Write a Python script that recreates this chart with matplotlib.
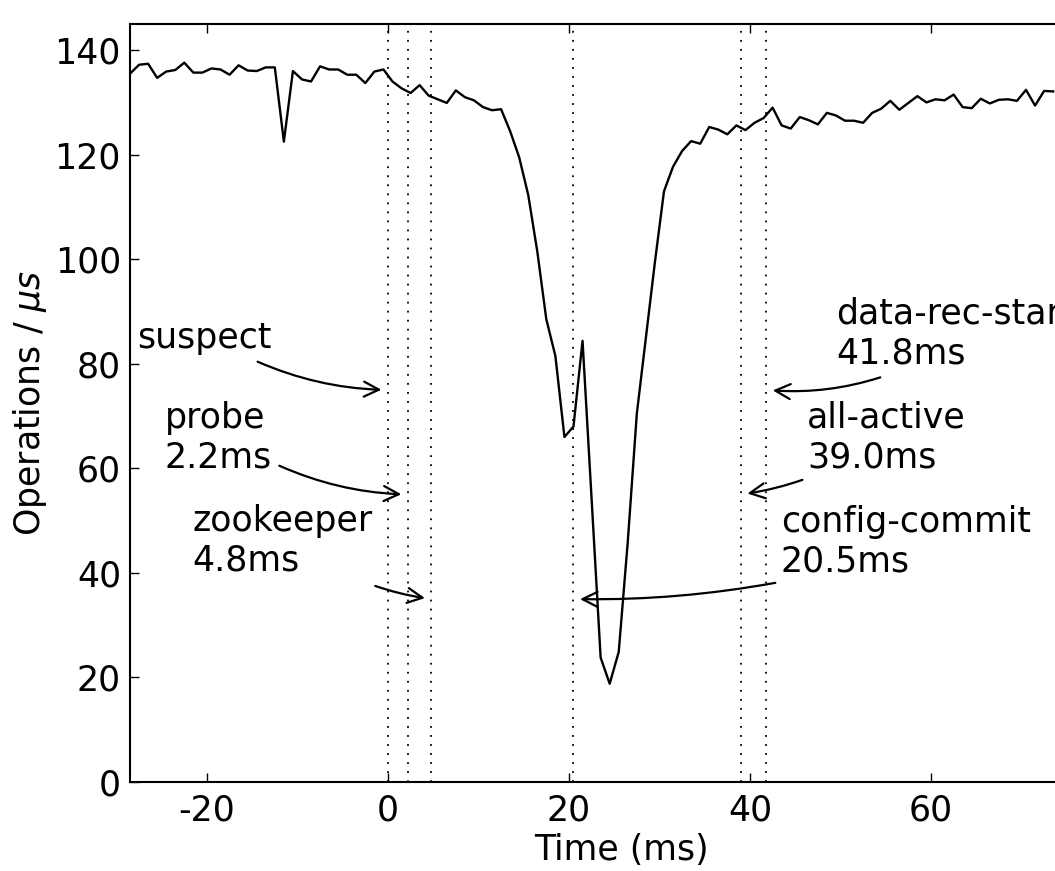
import matplotlib
matplotlib.use("Agg")
import matplotlib.pyplot as plt

plt.rcParams["axes.unicode_minus"] = False

# --- DATA ---
# sample times in ms (one sample per ms) and throughput in operations/us
times = [-28.5, -27.5, -26.5, -25.5, -24.5, -23.5, -22.5, -21.5, -20.5, -19.5,
         -18.5, -17.5, -16.5, -15.5, -14.5, -13.5, -12.5, -11.5, -10.5, -9.5,
         -8.5, -7.5, -6.5, -5.5, -4.5, -3.5, -2.5, -1.5, -0.5, 0.5,
         1.5, 2.5, 3.5, 4.5, 5.5, 6.5, 7.5, 8.5, 9.5, 10.5,
         11.5, 12.5, 13.5, 14.5, 15.5, 16.5, 17.5, 18.5, 19.5, 20.5,
         21.5, 22.5, 23.5, 24.5, 25.5, 26.5, 27.5, 28.5, 29.5, 30.5,
         31.5, 32.5, 33.5, 34.5, 35.5, 36.5, 37.5, 38.5, 39.5, 40.5,
         41.5, 42.5, 43.5, 44.5, 45.5, 46.5, 47.5, 48.5, 49.5, 50.5,
         51.5, 52.5, 53.5, 54.5, 55.5, 56.5, 57.5, 58.5, 59.5, 60.5,
         61.5, 62.5, 63.5, 64.5, 65.5, 66.5, 67.5, 68.5, 69.5, 70.5,
         71.5, 72.5, 73.5]
ops = [135.5, 137.2, 137.4, 134.7, 135.9, 136.2, 137.6, 135.7, 135.7, 136.5,
       136.3, 135.3, 137.1, 136.1, 136.0, 136.7, 136.7, 122.5, 136.0, 134.4,
       134.0, 136.9, 136.3, 136.3, 135.3, 135.3, 133.7, 135.9, 136.3, 134.0,
       132.7, 131.8, 133.3, 131.3, 130.6, 129.9, 132.3, 131.0, 130.4, 129.1,
       128.5, 128.7, 124.5, 119.5, 112.3, 101.5, 88.5, 81.5, 66.0, 68.0,
       84.4, 54.2, 23.8, 18.8, 24.9, 46.0, 70.5, 85.0, 99.5, 113.0,
       117.7, 120.7, 122.6, 122.1, 125.3, 124.8, 123.9, 125.6, 124.7, 126.1,
       127.0, 129.0, 125.6, 125.0, 127.2, 126.6, 125.8, 128.0, 127.5, 126.5,
       126.5, 126.1, 128.0, 128.8, 130.3, 128.6, 129.9, 131.2, 130.0, 130.6,
       130.4, 131.5, 129.1, 128.9, 130.7, 129.8, 130.5, 130.6, 130.3, 132.4,
       129.4, 132.2, 132.1]

# reconfiguration events (ms)
event_times = [0.0, 2.2, 4.8, 20.5, 39.0, 41.8]
event_labels = ["suspect", "probe\n2.2ms", "zookeeper\n4.8ms",
                "config-commit\n20.5ms", "all-active\n39.0ms",
                "data-rec-start\n41.8ms"]

# --- LAYOUT of the annotations (data coords, text y = last baseline) ---
arrow_y = [75, 55, 35, 35, 55, 75]
text_xy = [(-27.7, 83.1), (-24.7, 60.1), (-21.6, 40.4),
           (43.4, 40.2), (46.3, 60.2), (49.5, 80.1)]
arrow_from = [(-14.4, 80.4), (-12.0, 60.5), (-1.4, 37.5),
              (42.8, 38.1), (45.8, 57.8), (54.4, 77.4)]
arrow_rad = [0.1, 0.1, 0.05, -0.05, -0.05, -0.1]

FS = 25

fig = plt.figure(figsize=(10.55, 8.71), dpi=100)
# axes run past the right edge of the figure, as in the cropped original
ax = fig.add_axes([130 / 1055, 1 - 782 / 871, (1112 - 130) / 1055, (782 - 24) / 871])

ax.plot(times, ops, color="k", lw=1.7)

for t in event_times:
    ax.axvline(t, color="k", lw=1.3, linestyle=(0, (1, 4.0)))

for t, y, lab, (tx, ty), (ax0, ay0), rad in zip(event_times, arrow_y, event_labels,
                                                text_xy, arrow_from, arrow_rad):
    ax.text(tx, ty, lab, fontsize=FS, ha="left", va="baseline", linespacing=1.22)
    ax.annotate("", xy=(t, y), xytext=(ax0, ay0),
                arrowprops=dict(arrowstyle="->", connectionstyle=f"arc3,rad={rad}",
                                lw=1.6, color="k", shrinkA=0, shrinkB=4.7,
                                mutation_scale=27))

ax.set_xlim(-28.5, 80)
ax.set_ylim(0, 145)
ax.set_xticks([-20, 0, 20, 40, 60, 80])
ax.set_yticks(range(0, 141, 20))
ax.tick_params(direction="in", length=6.3, width=1, top=True, right=True,
               labelsize=FS)
ax.tick_params(axis="x", pad=8)
ax.tick_params(axis="y", pad=6.5)
for sp in ax.spines.values():
    sp.set_linewidth(1.5)

ax.set_xlabel("Time (ms)", fontsize=FS, labelpad=4)
ax.set_ylabel("Operations / $\\mu s$", fontsize=FS)

fig.savefig("out.png", dpi=100)
